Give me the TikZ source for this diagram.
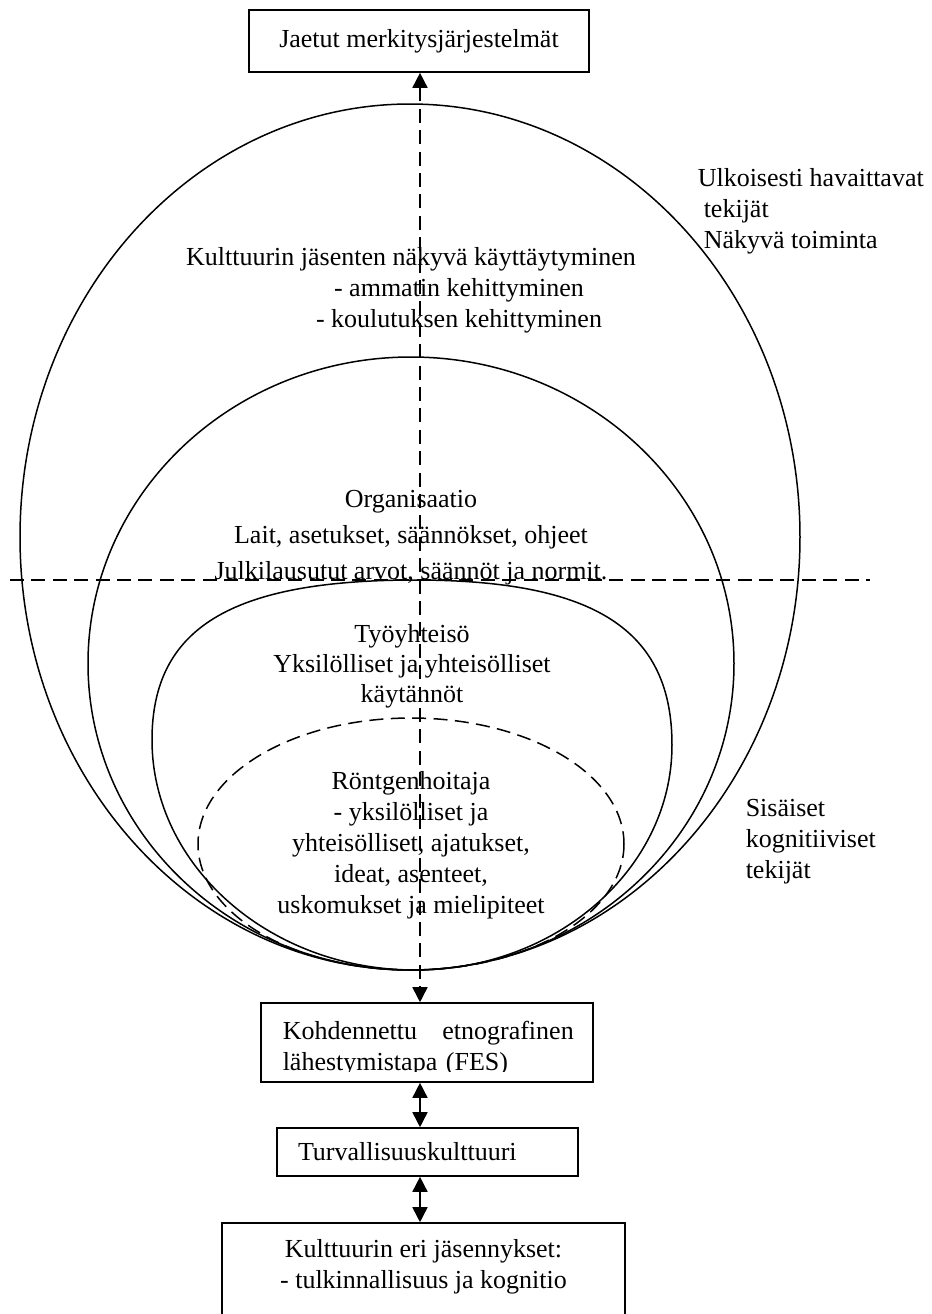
\documentclass[tikz,border=0pt]{standalone}
\usepackage{fontspec}
\setmainfont{Liberation Serif}
\usetikzlibrary{arrows.meta, positioning}

\tikzset{
  box/.style={draw, line width=0.8pt, inner sep=0pt},
  lbl/.style={inner sep=0pt, align=center},
  dashline/.style={dash pattern=on 7pt off 3.7pt},
  link/.style={line width=0.8pt, {Triangle[length=7.5pt,width=7.5pt]}-{Triangle[length=7.5pt,width=7.5pt]}},
}

\begin{document}
\begin{tikzpicture}[x=0.5pt, y=-0.5pt, line width=0.75pt, font=\fontsize{13}{15.5}\selectfont]
  \useasboundingbox (0,0) rectangle (932,1314);

  % boxes
  \node[box, minimum width=170pt, minimum height=31pt] (jaetut) at (419,41) {Jaetut merkitysjärjestelmät};
  \node[box, minimum width=166pt, minimum height=39.5pt] (fes) at (427,1042.5) {};
  \node[box, minimum width=150.5pt, minimum height=24pt, text width=129.5pt, align=left] (turva) at (427.5,1152) {Turvallisuuskulttuuri};
  \node[box, minimum width=201.5pt, minimum height=60pt] (parts) at (423.5,1283) {};

  % culture layers
  \draw (410,537) ellipse [x radius=390, y radius=433];
  \draw (411,663.5) ellipse [x radius=323, y radius=306.5];
  \draw (415,580) .. controls (231,580) and (152,628) .. (152,740)
        .. controls (152,866) and (270,970) .. (415,970)
        .. controls (556,970) and (672,869) .. (672,745)
        .. controls (672,630) and (595,580) .. (415,580);
  \draw[dashline] (411,844) ellipse [x radius=213, y radius=126];
  \draw[dashline] (10,580) -- (870,580);

  % connectors
  \coordinate (axis) at (420,0);
  \draw[dashline, link] (jaetut.south -| axis) -- (fes.north -| axis);
  \draw[link] (fes.south -| axis) -- (turva.north -| axis);
  \draw[link] (turva.south -| axis) -- (parts.north -| axis);

  % texts (base = last line)
  \node[lbl, anchor=base] (visible) at (411,327) {Kulttuurin jäsenten näkyvä käyttäytyminen\\\hspace*{48pt}- ammatin kehittyminen\\\hspace*{48pt}- koulutuksen kehittyminen};
  \node[lbl, anchor=base west, align=left] (external) at (697,248) {Ulkoisesti havaittavat\\\hspace*{3pt}tekijät\\\hspace*{3pt}Näkyvä toiminta};
  \node[lbl, anchor=base] (org) at (411,579) {Organisaatio\\[2.5pt]Lait, asetukset, säännökset, ohjeet\\[2.5pt]Julkilausutut arvot, säännöt ja normit.};
  \node[lbl, anchor=base] (work) at (412,702) {Työyhteisö\\[-0.5pt]Yksilölliset ja yhteisölliset\\[-0.5pt]käytännöt};
  \node[lbl, anchor=base] (radiographer) at (411,913) {Röntgenhoitaja\\- yksilölliset ja\\yhteisölliset, ajatukset,\\ideat, asenteet,\\uskomukset ja mielipiteet};
  \node[lbl, anchor=base west, align=left] (internal) at (745,878) {Sisäiset\\kognitiiviset\\tekijät};

  \begin{scope}
    \clip (fes.north west) rectangle ([yshift=5.5pt]fes.south east);
    \node[lbl, anchor=base west, text width=145.5pt, align=left] (festext) at (282,1039) {Kohdennettu\hfill etnografinen\\lähestymistapa (FES)};
  \end{scope}
  \node[lbl, anchor=base] (partstext) at (423.5,1288) {Kulttuurin eri jäsennykset:\\- tulkinnallisuus ja kognitio};
\end{tikzpicture}
\end{document}
